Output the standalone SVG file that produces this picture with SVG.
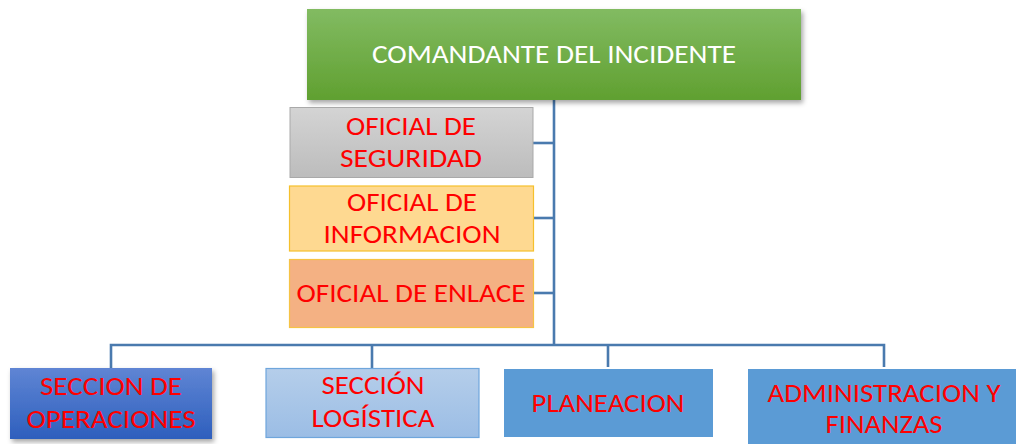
<svg xmlns="http://www.w3.org/2000/svg" width="1016" height="444" viewBox="0 0 1016 444">
<defs>
<linearGradient id="gGreen" x1="0" y1="0" x2="0" y2="1"><stop offset="0" stop-color="#82bb62"/><stop offset="1" stop-color="#60a030"/></linearGradient>
<linearGradient id="gGray" x1="0" y1="0" x2="0" y2="1"><stop offset="0" stop-color="#d4d4d4"/><stop offset="1" stop-color="#bcbcbc"/></linearGradient>
<linearGradient id="gBlue" x1="0" y1="0" x2="0" y2="1"><stop offset="0" stop-color="#5f85d4"/><stop offset="1" stop-color="#2e5fbd"/></linearGradient>
<linearGradient id="gLight" x1="0" y1="0" x2="0" y2="1"><stop offset="0" stop-color="#b5ceea"/><stop offset="1" stop-color="#9bbde5"/></linearGradient>
<filter id="sh" x="-10%" y="-20%" width="125%" height="150%"><feDropShadow dx="2" dy="3" stdDeviation="2.5" flood-color="#000" flood-opacity="0.35"/></filter>
</defs>
<style>
.t{font-family:Carlito,Lato,"Liberation Sans",sans-serif;font-size:26px;text-anchor:middle;fill:#ff0000}
.w{fill:#ffffff}
.c{fill:none;stroke:#4a7aae;stroke-width:2.6}
</style>
<g id="connectors">
<line class="c" x1="554" y1="100" x2="554" y2="346" stroke-width="3"/>
<line class="c" x1="533" y1="143" x2="554" y2="143"/>
<line class="c" x1="534" y1="218" x2="554" y2="218"/>
<line class="c" x1="534" y1="293" x2="554" y2="293"/>
<polyline class="c" points="111,368 111,345 884,345 884,367"/>
<line class="c" x1="372" y1="345" x2="372" y2="368"/>
<line class="c" x1="608" y1="345" x2="608" y2="367"/>
</g>
<g id="comandante">
<rect x="307" y="9" width="494" height="91" fill="url(#gGreen)" filter="url(#sh)"/>
<text class="t w" x="554" y="63" textLength="364" lengthAdjust="spacingAndGlyphs">COMANDANTE DEL INCIDENTE</text>
</g>
<g id="seguridad">
<rect x="290" y="107.5" width="243" height="70" fill="url(#gGray)" stroke="#a9a9a9" stroke-width="1"/>
<text class="t" x="411" y="135" textLength="130" lengthAdjust="spacingAndGlyphs">OFICIAL DE</text>
<text class="t" x="411" y="167" textLength="142" lengthAdjust="spacingAndGlyphs">SEGURIDAD</text>
</g>
<g id="informacion">
<rect x="289.5" y="186" width="244" height="65" fill="#fed991" stroke="#f5c02c" stroke-width="1.2"/>
<text class="t" x="412" y="211" textLength="130" lengthAdjust="spacingAndGlyphs">OFICIAL DE</text>
<text class="t" x="412" y="243" textLength="177" lengthAdjust="spacingAndGlyphs">INFORMACION</text>
</g>
<g id="enlace">
<rect x="289.5" y="259.5" width="244" height="68" fill="#f4b183" stroke="#f6c344" stroke-width="1.2"/>
<text class="t" x="411" y="302" textLength="229" lengthAdjust="spacingAndGlyphs">OFICIAL DE ENLACE</text>
</g>
<g id="operaciones">
<rect x="10" y="368" width="202" height="71" fill="url(#gBlue)" filter="url(#sh)"/>
<text class="t" x="111" y="395" textLength="142" lengthAdjust="spacingAndGlyphs">SECCION DE</text>
<text class="t" x="111" y="428" textLength="169" lengthAdjust="spacingAndGlyphs">OPERACIONES</text>
</g>
<g id="logistica">
<rect x="266" y="368.5" width="213" height="69" fill="url(#gLight)" stroke="#6fa6dc" stroke-width="1.2"/>
<text class="t" x="373" y="394" textLength="103" lengthAdjust="spacingAndGlyphs">SECCIÓN</text>
<text class="t" x="373" y="427" textLength="123" lengthAdjust="spacingAndGlyphs">LOGÍSTICA</text>
</g>
<g id="planeacion">
<rect x="504" y="369" width="209" height="68" fill="#5b9bd5"/>
<text class="t" x="608" y="412" textLength="153" lengthAdjust="spacingAndGlyphs">PLANEACION</text>
</g>
<g id="administracion">
<rect x="748" y="369" width="268" height="75" fill="#5b9bd5"/>
<text class="t" x="884" y="402" textLength="233" lengthAdjust="spacingAndGlyphs">ADMINISTRACION Y</text>
<text class="t" x="884" y="433" textLength="117" lengthAdjust="spacingAndGlyphs">FINANZAS</text>
</g>
</svg>
